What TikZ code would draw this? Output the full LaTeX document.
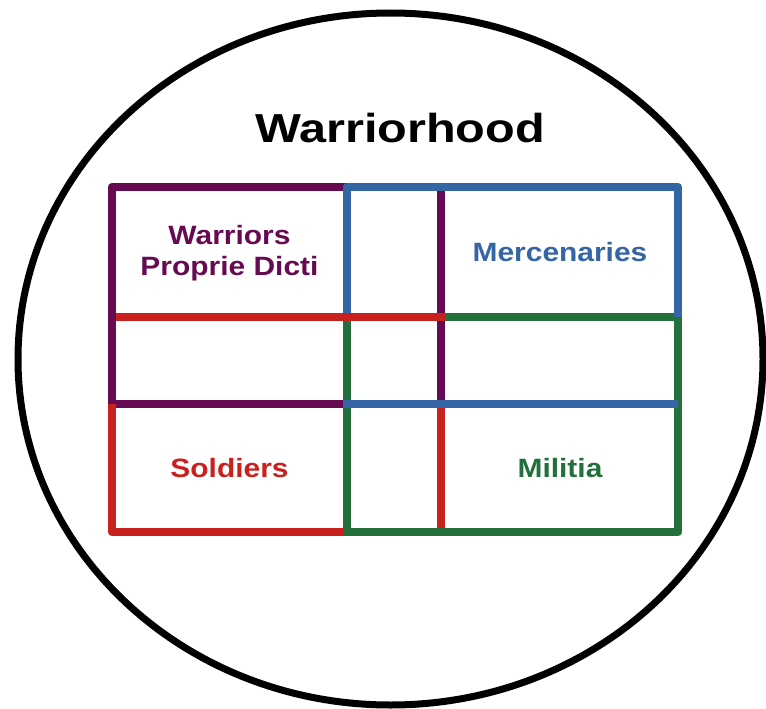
\documentclass[tikz,border=0pt]{standalone}
\usepackage{fontspec}
\setmainfont{Liberation Sans}
\definecolor{wpurple}{RGB}{102,10,82}
\definecolor{wblue}{RGB}{52,101,164}
\definecolor{wred}{RGB}{201,33,30}
\definecolor{wgreen}{RGB}{35,112,60}
\begin{document}
\begin{tikzpicture}[x=1pt,y=-1pt,
  edge/.style={line width=8.5pt, line join=round},
  lbl/.style={font=\fontsize{26.5}{31}\selectfont\bfseries, anchor=base, inner sep=0pt},
  ttl/.style={font=\fontsize{40.5}{48}\selectfont\bfseries, anchor=base, inner sep=0pt}]
\useasboundingbox (0,0) rectangle (766,709);
\fill[white] (0,0) rectangle (766,709);
\draw[line width=7pt] (390.5,359) ellipse [x radius=372.5pt, y radius=346pt];
% grid points
\coordinate (A1) at (112,187); \coordinate (B1) at (347,187); \coordinate (C1) at (441,187); \coordinate (D1) at (678,187);
\coordinate (A2) at (112,317); \coordinate (B2) at (347,317); \coordinate (C2) at (441,317); \coordinate (D2) at (678,317);
\coordinate (A3) at (112,404); \coordinate (B3) at (347,404); \coordinate (C3) at (441,404); \coordinate (D3) at (678,404);
\coordinate (A4) at (112,532); \coordinate (B4) at (347,532); \coordinate (C4) at (441,532); \coordinate (D4) at (678,532);
% purple
\draw[edge,wpurple] (B1) -- (A1) -- (A3) -- (B3);
\draw[edge,wpurple] (C1) -- (C3);
% red (lower parts)
\draw[edge,wred] (A3) -- (A4) -- (B4);
\draw[edge,wred] (C3) -- (C4);
% green
\draw[edge,wgreen] (C2) -- (D2) -- (D4) -- (B4) -- (B2);
% blue
\draw[edge,wblue] (B2) -- (B1) -- (D1) -- (D2);
\draw[edge,wblue] ([xshift=-4.25pt]B3) -- (D3);
% red top line
\draw[edge,wred] ([xshift=4.25pt]A2) -- ([xshift=4.25pt]C2);
% texts
\node[ttl] (title) at (400,142.5) {\scalebox{1.2}[1]{Warriorhood}};
\node[lbl,wpurple] (wpd1) at (229.5,244) {\scalebox{1.13}[1]{Warriors}};
\node[lbl,wpurple] (wpd2) at (229.5,275) {\scalebox{1.13}[1]{Proprie Dicti}};
\node[lbl,wblue] (merc) at (560,261) {\scalebox{1.13}[1]{Mercenaries}};
\node[lbl,wred] (sold) at (229.5,477) {\scalebox{1.13}[1]{Soldiers}};
\node[lbl,wgreen] (mil) at (560,477) {\scalebox{1.13}[1]{Militia}};
\end{tikzpicture}
\end{document}
